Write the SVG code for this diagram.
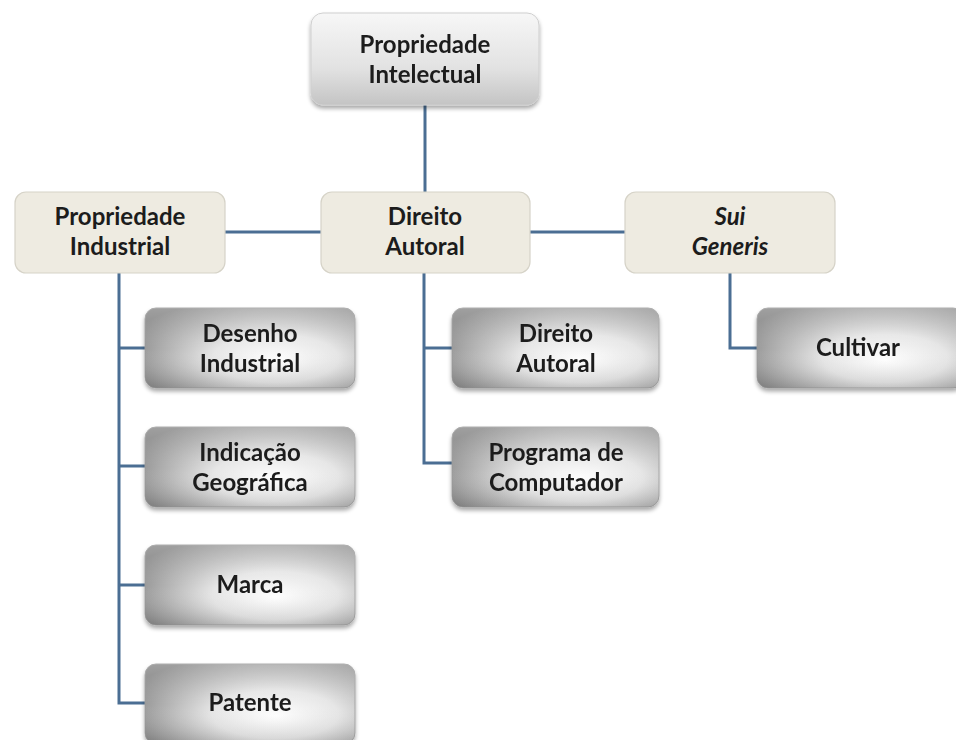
<svg xmlns="http://www.w3.org/2000/svg" width="956" height="740" viewBox="0 0 956 740">
<defs>
<linearGradient id="topg" x1="0" y1="0" x2="0" y2="1">
<stop offset="0" stop-color="#f7f7f7"/>
<stop offset="0.6" stop-color="#e2e2e2"/>
<stop offset="1" stop-color="#c4c4c4"/>
</linearGradient>
<radialGradient id="grayg" cx="0.62" cy="0.6" r="0.75" fx="0.62" fy="0.65">
<stop offset="0" stop-color="#ffffff"/>
<stop offset="0.4" stop-color="#e6e6e6"/>
<stop offset="1" stop-color="#808080"/>
</radialGradient>
<linearGradient id="sheen" x1="0" y1="0" x2="0" y2="1">
<stop offset="0" stop-color="#ffffff" stop-opacity="0.25"/>
<stop offset="0.5" stop-color="#ffffff" stop-opacity="0"/>
<stop offset="1" stop-color="#000000" stop-opacity="0.08"/>
</linearGradient>
<filter id="sh" x="-10%" y="-10%" width="125%" height="130%">
<feGaussianBlur in="SourceAlpha" stdDeviation="2"/>
<feOffset dx="0" dy="3" result="b"/>
<feComponentTransfer><feFuncA type="linear" slope="0.35"/></feComponentTransfer>
<feMerge><feMergeNode/><feMergeNode in="SourceGraphic"/></feMerge>
</filter>
</defs>
<style>
.t{font-family:Lato,"Open Sans","Liberation Sans",sans-serif;font-weight:bold;font-size:24px;fill:#1c1c1c;text-anchor:middle}
.i{font-style:italic}
.top{fill:url(#topg);stroke:#cfcfcf;stroke-width:1}
.lv2{fill:#eeebe1;stroke:#d6d3c8;stroke-width:1.2}
.gray{fill:url(#grayg);stroke:#9a9a9a;stroke-width:0.8}
.c{fill:none;stroke:#4b6e93;stroke-width:3}
</style>
<rect width="956" height="740" fill="#ffffff"/>
<g id="connectors">
<line class="c" x1="425" y1="105" x2="425" y2="192"/>
<line class="c" x1="225" y1="232" x2="321" y2="232"/>
<line class="c" x1="530" y1="232" x2="625" y2="232"/>
<polyline class="c" points="119,273 119,703 145,703"/>
<line class="c" x1="119" y1="348" x2="145" y2="348"/>
<line class="c" x1="119" y1="466" x2="145" y2="466"/>
<line class="c" x1="119" y1="585" x2="145" y2="585"/>
<polyline class="c" points="424,273 424,463 452,463"/>
<line class="c" x1="424" y1="348" x2="452" y2="348"/>
<polyline class="c" points="730,272 730,348 757,348"/>
</g>
<g id="propriedade-intelectual" filter="url(#sh)">
<rect class="top" x="311" y="13" width="228" height="92" rx="12"/>
<text class="t" x="425" y="53">Propriedade</text>
<text class="t" x="425" y="83">Intelectual</text>
</g>
<g id="propriedade-industrial">
<rect class="lv2" x="15" y="192" width="210" height="81" rx="11"/>
<text class="t" x="120" y="225">Propriedade</text>
<text class="t" x="120" y="255">Industrial</text>
</g>
<g id="direito-autoral-main">
<rect class="lv2" x="321" y="192" width="209" height="81" rx="11"/>
<text class="t" x="425" y="225">Direito</text>
<text class="t" x="425" y="255">Autoral</text>
</g>
<g id="sui-generis">
<rect class="lv2" x="625" y="192" width="210" height="81" rx="11"/>
<text class="t i" x="730" y="225">Sui</text>
<text class="t i" x="730" y="255">Generis</text>
</g>
<g id="desenho-industrial" filter="url(#sh)">
<rect class="gray" x="145" y="308" width="210" height="80" rx="11"/>
<rect x="145" y="308" width="210" height="80" rx="11" fill="url(#sheen)"/>
<text class="t" x="250" y="342">Desenho</text>
<text class="t" x="250" y="372">Industrial</text>
</g>
<g id="indicacao-geografica" filter="url(#sh)">
<rect class="gray" x="145" y="427" width="210" height="80" rx="11"/>
<rect x="145" y="427" width="210" height="80" rx="11" fill="url(#sheen)"/>
<text class="t" x="250" y="461">Indicação</text>
<text class="t" x="250" y="491">Geográfica</text>
</g>
<g id="marca" filter="url(#sh)">
<rect class="gray" x="145" y="545" width="210" height="80" rx="11"/>
<rect x="145" y="545" width="210" height="80" rx="11" fill="url(#sheen)"/>
<text class="t" x="250" y="593">Marca</text>
</g>
<g id="patente" filter="url(#sh)">
<rect class="gray" x="145" y="664" width="210" height="80" rx="11"/>
<rect x="145" y="664" width="210" height="80" rx="11" fill="url(#sheen)"/>
<text class="t" x="250" y="711">Patente</text>
</g>
<g id="direito-autoral" filter="url(#sh)">
<rect class="gray" x="452" y="308" width="207" height="80" rx="11"/>
<rect x="452" y="308" width="207" height="80" rx="11" fill="url(#sheen)"/>
<text class="t" x="556" y="342">Direito</text>
<text class="t" x="556" y="372">Autoral</text>
</g>
<g id="programa-de-computador" filter="url(#sh)">
<rect class="gray" x="452" y="427" width="207" height="80" rx="11"/>
<rect x="452" y="427" width="207" height="80" rx="11" fill="url(#sheen)"/>
<text class="t" x="556" y="461">Programa de</text>
<text class="t" x="556" y="491">Computador</text>
</g>
<g id="cultivar" filter="url(#sh)">
<rect class="gray" x="757" y="308" width="207" height="80" rx="11"/>
<rect x="757" y="308" width="207" height="80" rx="11" fill="url(#sheen)"/>
<text class="t" x="858" y="356">Cultivar</text>
</g>
</svg>
